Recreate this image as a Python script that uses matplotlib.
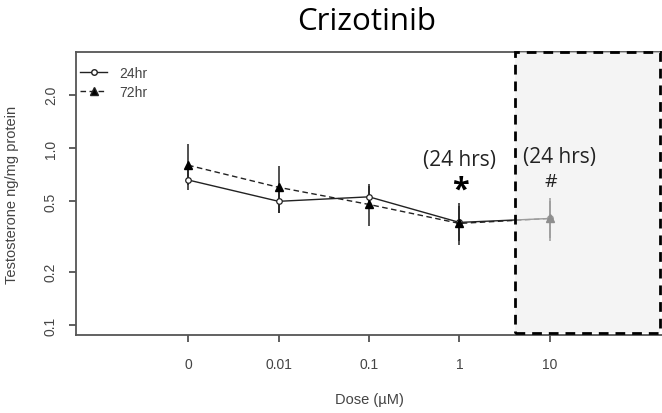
import numpy as np
import matplotlib
matplotlib.use("Agg")
import matplotlib.pyplot as plt
from matplotlib.patches import Rectangle
from matplotlib.lines import Line2D
import matplotlib.transforms as mtransforms

# data
doses = ["0", "0.01", "0.1", "1", "10"]
mean_24 = [0.66, 0.50, 0.53, 0.38, 0.40]
lo_24 = [0.58, 0.43, 0.46, 0.30, 0.31]
hi_24 = [0.76, 0.58, 0.61, 0.47, 0.50]
mean_72 = [0.80, 0.60, 0.48, 0.375, 0.40]
lo_72 = [0.62, 0.43, 0.365, 0.285, 0.30]
hi_72 = [1.05, 0.79, 0.63, 0.49, 0.52]
y_ticks = [0.1, 0.2, 0.5, 1.0, 2.0]
y_labels = ["0.1", "0.2", "0.5", "1.0", "2.0"]

plt.rcParams['font.family'] = ['Liberation Sans', 'DejaVu Sans']
axcol = '#444444'
dark = '#222222'

fig = plt.figure(figsize=(6.62, 4.14), dpi=100)
ax = fig.add_axes([76 / 662, 1 - 336 / 414, 1 - 76 / 662, (336 - 53) / 414])

x = np.arange(1, len(doses) + 1)

ax.vlines(x, lo_24, hi_24, color=dark, lw=1.1, zorder=2)
ax.vlines(x, lo_72, hi_72, color=dark, lw=1.1, zorder=2)
ax.plot(x, mean_24, color=dark, lw=1.0, ls='-', marker='o', ms=4,
        mfc='white', mec=dark, mew=0.9, zorder=3)
ax.plot(x, mean_72, color=dark, lw=1.0, ls=(0, (4, 2.5)), marker='^', ms=6,
        mfc='black', mec='black', zorder=3)

ax.set_yscale('log')
ax.set_ylim(0.0878, 3.49)
ax.set_xlim(-0.24, 6.24)
ax.set_yticks(y_ticks)
ax.set_yticklabels(y_labels, rotation=90, va='center')
ax.minorticks_off()
ax.set_xticks(x)
ax.set_xticklabels(doses)
ax.tick_params(colors=axcol, labelcolor=axcol, labelsize=10, length=5, width=1.2)
ax.tick_params(axis='x', pad=11)
ax.tick_params(axis='y', pad=8)

for s in ['left', 'bottom', 'top']:
    ax.spines[s].set_color('#555555')
    ax.spines[s].set_linewidth(1.3)
ax.spines['right'].set_visible(False)

ax.set_xlabel('Dose (\u00b5M)', color=axcol, fontsize=10.5, va='center')
ax.set_ylabel('Testosterone ng/mg protein', color=axcol, fontsize=10.5, va='center')
ax.xaxis.set_label_coords(0.5, -0.226)
ax.yaxis.set_label_coords(-0.109, 0.5)

# shaded dashed box over the 10 uM region
trans = mtransforms.blended_transform_factory(ax.transData, ax.transAxes)
ax.add_patch(Rectangle((4.613, 0.007), 6.22 - 4.613, 0.993, transform=trans,
                       facecolor='#eeeeee', alpha=0.6, edgecolor='none',
                       zorder=4, clip_on=False))
ax.add_patch(Rectangle((4.613, 0.007), 6.22 - 4.613, 0.993, transform=trans,
                       facecolor='none', edgecolor='black', lw=2,
                       ls=(0, (3.5, 2.5)), zorder=5, clip_on=False))

# annotations
ann_font = ['Open Sans', 'DejaVu Sans']
ax.text(4, 0.867, '(24 hrs)', ha='center', va='center', fontsize=15,
        family=ann_font, color=dark, zorder=6)
ax.text(4.01, 0.58, '*', ha='center', va='center', fontsize=22, fontweight='bold',
        family=ann_font, color='black', zorder=6)
ax.text(5.11, 0.90, '(24 hrs)', ha='center', va='center', fontsize=15,
        family=ann_font, color=dark, zorder=6)
ax.text(5.01, 0.65, '#', ha='center', va='center', fontsize=14,
        family=ann_font, color=dark, zorder=6)

handles = [Line2D([], [], color=dark, lw=1.0, marker='o', ms=4, mfc='white'),
           Line2D([], [], color=dark, lw=1.0, ls=(0, (4, 2.5)), marker='^', ms=6,
                  mfc='black')]
ax.legend(handles, ['24hr', '72hr'], loc='upper left', frameon=False, fontsize=10,
          handlelength=1.95, handletextpad=0.9, labelspacing=0.35,
          borderaxespad=0, borderpad=0, labelcolor=axcol,
          bbox_to_anchor=(80 / 662, 1 - 67 / 414), bbox_transform=fig.transFigure)

fig.text(367 / 662, 1 - 22 / 414, 'Crizotinib', ha='center', va='center',
         fontsize=22.5, family=ann_font, color='black')

fig.savefig('out.png', dpi=100)
